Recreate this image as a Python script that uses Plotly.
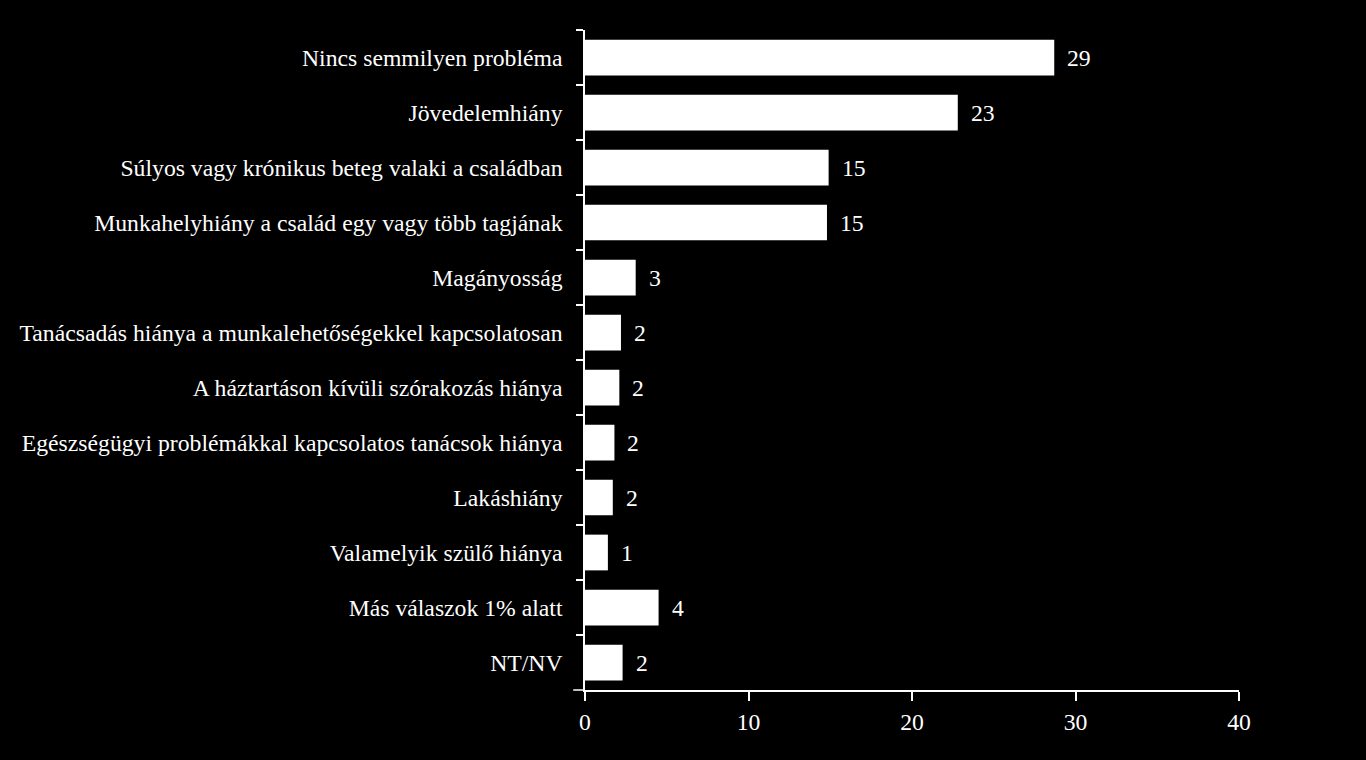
import plotly.graph_objects as go

categories = [
    "Nincs semmilyen probléma",
    "Jövedelemhiány",
    "Súlyos vagy krónikus beteg valaki a családban",
    "Munkahelyhiány a család egy vagy több tagjának",
    "Magányosság",
    "Tanácsadás hiánya a munkalehetőségekkel kapcsolatosan",
    "A háztartáson kívüli szórakozás hiánya",
    "Egészségügyi problémákkal kapcsolatos tanácsok hiánya",
    "Lakáshiány",
    "Valamelyik szülő hiánya",
    "Más válaszok 1% alatt",
    "NT/NV",
]
values = [28.7, 22.8, 14.9, 14.8, 3.1, 2.2, 2.1, 1.8, 1.7, 1.4, 4.5, 2.3]
value_labels = ["29", "23", "15", "15", "3", "2", "2", "2", "2", "1", "4", "2"]
x_ticks = [0, 10, 20, 30, 40]

FONT = "Liberation Serif"
FS = 23.7

fig = go.Figure(go.Bar(
    x=values, y=categories, orientation="h",
    marker=dict(color="white", line=dict(width=0)),
    width=0.65,
))

for v, c, t in zip(values, categories, value_labels):
    fig.add_annotation(x=v, y=c, text=t, showarrow=False, xanchor="left",
                       xshift=11, font=dict(family=FONT, size=FS, color="white"))

# extend x-axis line slightly left of the y axis
fig.add_shape(type="line", xref="paper", yref="paper", x0=-0.018, x1=0, y0=0, y1=0,
              line=dict(color="white", width=1.5))

fig.update_layout(
    width=1366, height=760,
    paper_bgcolor="black", plot_bgcolor="black",
    margin=dict(l=585, r=127, t=30, b=70),
    showlegend=False,
    font=dict(family=FONT, size=FS, color="white"),
    xaxis=dict(range=[0, 40], tickvals=x_ticks, showgrid=False, zeroline=False,
               showline=True, linecolor="white", linewidth=1.5,
               ticks="outside", ticklen=9, tickcolor="white", tickwidth=1.5,
               ticklabelstandoff=1,
               tickfont=dict(family=FONT, size=FS, color="white")),
    yaxis=dict(autorange="reversed", showgrid=False, zeroline=False,
               showline=True, linecolor="white", linewidth=1.5,
               ticks="outside", tickson="boundaries", ticklen=7,
               tickcolor="white", tickwidth=1.5, ticklabelstandoff=16,
               tickfont=dict(family=FONT, size=FS, color="white")),
)

fig.write_html("out.html", config={"displayModeBar": False},
               post_script="document.body.style.margin='0';document.body.style.background='black';")
